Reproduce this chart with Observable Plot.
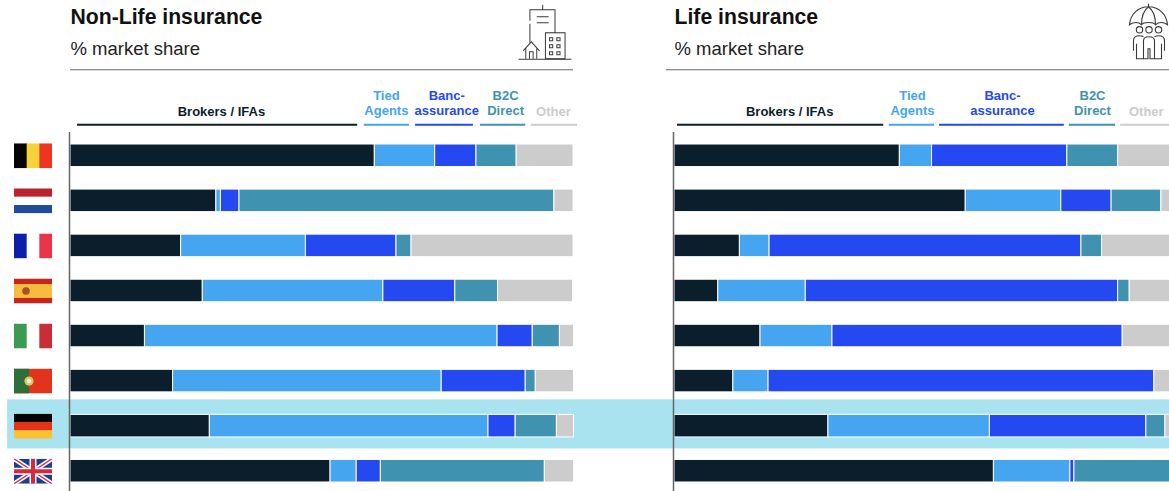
<!DOCTYPE html>
<html>
<head>
<meta charset="utf-8">
<script src="https://cdn.jsdelivr.net/npm/d3@7"></script>
<script src="https://cdn.jsdelivr.net/npm/@observablehq/plot@0.6"></script>
<style>
html,body{margin:0;padding:0;background:#fff;overflow:hidden;}
</style>
</head>
<body>
<div id="chart"></div>
<script>
const panels = ["Non-Life insurance", "Life insurance"];
const countries = ["BE", "NL", "FR", "ES", "IT", "PT", "DE", "UK"];
const channels = ["Brokers / IFAs", "Tied Agents", "Bancassurance", "B2C Direct", "Other"];
const channelColors = ["#0a1e2c", "#45a5f0", "#2549f0", "#3f92b0", "#cccccc"];

const nonLifeBrokers = [60.5, 29.0, 22.0, 26.3, 14.8, 20.4, 27.7, 51.7];
const nonLifeTied    = [12.0,  0.9, 24.8, 35.9, 70.1, 53.4, 55.4,  5.2];
const nonLifeBanc    = [ 8.2,  3.7, 18.0, 14.3,  7.0, 16.7,  5.4,  4.8];
const nonLifeB2C     = [ 8.0, 62.6,  3.0,  8.5,  5.4,  2.0,  8.2, 32.6];
const nonLifeOther   = [11.3,  3.8, 32.2, 14.9,  2.8,  7.6,  3.4,  5.8];

const lifeBrokers = [44.8, 57.9, 13.0,  8.7, 17.1, 11.7, 30.6, 63.5];
const lifeTied    = [ 6.4, 19.0,  5.9, 17.4, 14.3,  7.0, 32.1, 15.2];
const lifeBanc    = [26.9, 10.0, 62.0, 62.1, 57.7, 76.7, 31.1,  0.8];
const lifeB2C     = [10.1,  9.9,  4.1,  2.3,  0.0,  0.0,  3.8, 20.5];
const lifeOther   = [11.8,  3.2, 15.0,  9.5, 10.9,  4.6,  2.4,  0.0];

const headerLabels = ["Brokers / IFAs", "Tied\nAgents", "Banc-\nassurance", "B2C\nDirect", "Other"];
const nonLifeHeaderCenter = [30.0, 62.8, 74.8, 86.5, 96.0];
const nonLifeHeaderStart  = [1.4, 58.4, 68.6, 81.5, 91.6];
const nonLifeHeaderEnd    = [57.1, 67.4, 80.1, 90.5, 100.8];
const lifeHeaderCenter = [22.9, 47.3, 65.2, 83.1, 93.8];
const lifeHeaderStart  = [0.6, 42.7, 52.7, 78.5, 88.7];
const lifeHeaderEnd    = [41.6, 51.7, 77.5, 87.7, 100];

const highlighted = "DE";

const svgUri = (w, h, body) => "data:image/svg+xml," + encodeURIComponent(
  `<svg xmlns="http://www.w3.org/2000/svg" width="${w}" height="${h}" viewBox="0 0 ${w} ${h}" preserveAspectRatio="none">${body}</svg>`);
const vStripes = (a, b, c) => svgUri(38, 25, `<rect width="13" height="25" fill="${a}"/><rect x="12.67" width="13" height="25" fill="${b}"/><rect x="25.33" width="12.67" height="25" fill="${c}"/>`);
const hStripes = (a, b, c) => svgUri(38, 25, `<rect width="38" height="8.6" fill="${a}"/><rect y="8.33" width="38" height="8.6" fill="${b}"/><rect y="16.67" width="38" height="8.33" fill="${c}"/>`);
const flags = {
  BE: vStripes("#050505", "#f8d239", "#ef3420"),
  NL: hStripes("#b9222f", "#ffffff", "#1f4c9b"),
  FR: vStripes("#0b1fa8", "#ffffff", "#ea3449"),
  ES: svgUri(38, 25, `<rect width="38" height="25" fill="#c9241c"/><rect y="5.5" width="38" height="14" fill="#f5bc3e"/><circle cx="12" cy="12.5" r="3.8" fill="#a8502a"/>`),
  IT: vStripes("#3b9b53", "#ffffff", "#c92d39"),
  PT: svgUri(38, 25, `<rect width="38" height="25" fill="#e1341d"/><rect width="15" height="25" fill="#2c6f3a"/><circle cx="15" cy="12.5" r="4.6" fill="#e6c65a"/><circle cx="15" cy="12.5" r="2.2" fill="#f4f4f4"/>`),
  DE: hStripes("#030303", "#e5331a", "#fcc22f"),
  UK: svgUri(38, 25, `<rect width="38" height="25" fill="#1e3f90"/><path d="M0 0L38 25M38 0L0 25" stroke="#fff" stroke-width="4.5"/><path d="M0 0L38 25M38 0L0 25" stroke="#d8283a" stroke-width="1.4"/><path d="M19 0V25M0 12.5H38" stroke="#fff" stroke-width="7"/><path d="M19 0V25M0 12.5H38" stroke="#d8283a" stroke-width="4"/>`)
};
const g = `fill="none" stroke="#3a3a3a" stroke-width="1.1"`;
const buildingIcon = svgUri(80, 70, `<g ${g}>
<path d="M43.500 4V9M29.500 20V9H57V32M29.500 23V42M37 16H50M37 22H50"/>
<rect x="46.500" y="32" width="21.500" height="26"/>
<path d="M17 58.500H75"/>
<path d="M22 50L31 41L40 50M25 47V58M37 47V58M29 58V51H33V58"/>
<path d="M51 37h3.500v3h-3.500zM59 37h3.500v3h-3.500zM51 44h3.500v3h-3.500zM59 44h3.500v3h-3.500zM51 51h3.500v3h-3.500zM59 51h3.500v3h-3.500z"/>
</g>`);
const umbrellaIcon = svgUri(59, 70, `<g ${g}>
<path d="M38 3V6M19 24C20 13 28 6 38 6C48 6 56 13 57 24C53 21 48 21 45 24C43 21 33 21 31 24C28 21 23 21 19 24Z"/>
<path d="M31 24C31 15 34 9 38 6C42 9 45 15 45 24"/>
<circle cx="29" cy="29" r="3.200"/><circle cx="38.500" cy="29" r="3.200"/><circle cx="48" cy="29" r="3.200"/>
<path d="M23 50V40C23 36 25 35 29 35C31 35 32 35.500 33 36M54 50V40C54 36 52 35 48 35C46 35 45 35.500 44 36M33 58V40C33 37 35 36 38.500 36C42 36 44 37 44 40V58H39.500V48H37.500V58Z"/>
<path d="M26 43V58H33M51 43V58H44"/>
</g>`);

// Assemble the tables the marks read
const bandTable = (series, panel) => countries.flatMap((country, i) =>
  channels.map((channel, c) => ({panel, country, channel, share: series[c][i]})));
const rows = [
  ...bandTable([nonLifeBrokers, nonLifeTied, nonLifeBanc, nonLifeB2C, nonLifeOther], panels[0]),
  ...bandTable([lifeBrokers, lifeTied, lifeBanc, lifeB2C, lifeOther], panels[1])
];
const headerTable = (center, start, end, panel) => headerLabels.map((label, i) => ({
  panel, label, channel: channels[i], center: center[i], start: start[i], end: end[i], country: countries[0]}));
const headers = [
  ...headerTable(nonLifeHeaderCenter, nonLifeHeaderStart, nonLifeHeaderEnd, panels[0]),
  ...headerTable(lifeHeaderCenter, lifeHeaderStart, lifeHeaderEnd, panels[1])
];
const singleLine = headers.filter(d => !d.label.includes("\n"));
const doubleLine = headers.filter(d => d.label.includes("\n"));

const font = "'Liberation Sans', Arial, sans-serif";
const first = countries[0];
const titleRows = panels.map(panel => ({panel, title: panel, sub: "% market share", country: first}));

const chart = Plot.plot({
  width: 1169,
  height: 491,
  marginLeft: 70,
  marginRight: -8,
  marginTop: 135,
  marginBottom: 0,
  style: {background: "#fff", fontFamily: font},
  fx: {domain: panels, axis: null, paddingInner: 101 / 604, paddingOuter: 0, round: false},
  x: {domain: [0, 100], axis: null},
  y: {domain: countries, axis: null, paddingInner: 0.5, paddingOuter: 0.2, round: false},
  color: {domain: channels, range: channelColors},
  marks: [
    // highlighted row band, running across both panels
    Plot.barX([{panel: panels[0], country: highlighted}], {
      fx: "panel", y: "country", x1: () => -12.5, x2: () => 100.1,
      fill: "#a9e3f0", insetTop: -15, insetBottom: -11.5
    }),
    Plot.barX([{panel: panels[1], country: highlighted}], {
      fx: "panel", y: "country", x1: () => -20.08, x2: () => 100,
      fill: "#a9e3f0", insetTop: -15, insetBottom: -11.5
    }),
    // stacked share bars
    Plot.barX(rows, {
      fx: "panel", y: "country", x: "share", fill: "channel", order: null,
      stroke: "#fff", strokeWidth: 1
    }),
    // vertical baseline in each panel
    Plot.ruleX([0], {stroke: "#666", strokeWidth: 1.5, insetTop: -3, dx: -1}),
    // rule under the title
    Plot.ruleY(titleRows, {
      fx: "panel", y: "country", dy: -86,
      x1: d => d.panel === panels[0] ? 0 : -1.6, x2: () => 100,
      stroke: "#666", strokeWidth: 1
    }),
    // flags
    Plot.image(countries.map(country => ({panel: panels[0], country})), {
      fx: "panel", y: "country", x: () => 0, dx: -37.5,
      width: 38, height: 25, src: d => flags[d.country]
    }),
    // titles
    Plot.text(titleRows, {
      fx: "panel", y: "country", x: () => 0, dy: -139, text: "title",
      textAnchor: "start", fontWeight: "bold", fontSize: 21.2, fill: "#111"
    }),
    Plot.text(titleRows, {
      fx: "panel", y: "country", x: () => 0, dy: -107, text: "sub",
      textAnchor: "start", fontSize: 18.5, fill: "#222"
    }),
    // column headers and their coloured underlines
    Plot.text(singleLine, {
      fx: "panel", y: "country", x: "center", dy: -43.5, text: "label",
      fill: "channel", fontWeight: "bold", fontSize: 13
    }),
    Plot.text(doubleLine, {
      fx: "panel", y: "country", x: "center", dy: -53.5, text: "label", lineHeight: 1.15,
      fill: "channel", fontWeight: "bold", fontSize: 13
    }),
    Plot.ruleY(headers, {
      fx: "panel", y: "country", x1: "start", x2: "end", dy: -31,
      stroke: "channel", strokeWidth: 2
    }),
    // panel icons
    Plot.image([{panel: panels[0], country: first}], {
      fx: "panel", y: "country", x: () => 100, dx: -34, dy: -120,
      width: 73, height: 70, preserveAspectRatio: "none", src: () => buildingIcon
    }),
    Plot.image([{panel: panels[1], country: first}], {
      fx: "panel", y: "country", x: () => 100, dx: -37.5, dy: -120,
      width: 59, height: 70, src: () => umbrellaIcon
    })
  ]
});
document.getElementById("chart").append(chart);
</script>
</body>
</html>
